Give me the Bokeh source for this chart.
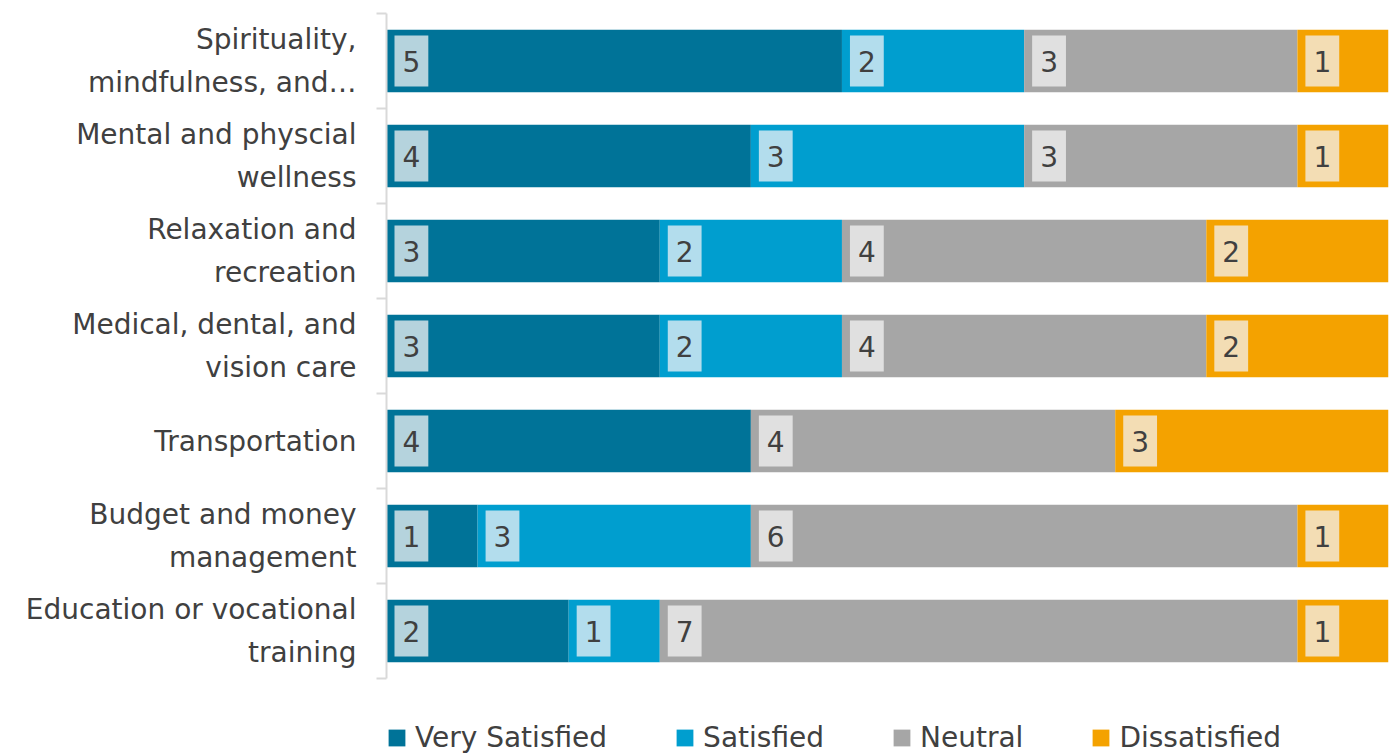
from bokeh.plotting import figure
from bokeh.models import ColumnDataSource, FixedTicker, Legend, LegendItem, Range1d
from bokeh.core.properties import value
from bokeh.embed import file_html
from bokeh.resources import INLINE

categories = [
    "Spirituality,\nmindfulness, and…",
    "Mental and physcial\nwellness",
    "Relaxation and\nrecreation",
    "Medical, dental, and\nvision care",
    "Transportation",
    "Budget and money\nmanagement",
    "Education or vocational\ntraining",
]
series = ["Very Satisfied", "Satisfied", "Neutral", "Dissatisfied"]
very_satisfied = [5, 4, 3, 3, 4, 1, 2]
satisfied = [2, 3, 2, 2, 0, 3, 1]
neutral = [3, 3, 4, 4, 4, 6, 7]
dissatisfied = [1, 1, 2, 2, 3, 1, 1]

colors = ["#007398", "#009ECF", "#A6A6A6", "#F4A200"]
box_colors = ["#B5D3DD", "#B3DDED", "#E0E0E0", "#F3DDB4"]
FONT = "DejaVu Sans"
FS = "28px"
TXT = "#404040"

n = len(categories)
ypos = [n - 1 - i for i in range(n)]  # first category at top
values = [very_satisfied, satisfied, neutral, dissatisfied]

H = 754
TOP = 13
BAND = 95.0
y_bottom = (n - 0.5) - (H - TOP) / BAND  # extra room below bars for the legend

p = figure(width=1390, height=H, output_backend="svg", toolbar_location=None,
           x_range=Range1d(0, 11), y_range=Range1d(y_bottom, n - 0.5),
           min_border_left=386, min_border_right=2, min_border_top=TOP, min_border_bottom=0)
p.outline_line_color = None
p.grid.visible = False
p.xaxis.visible = False
p.background_fill_color = "white"
p.border_fill_color = "white"

data = {"y": ypos}
for name, vals in zip(series, values):
    data[name] = vals
src = ColumnDataSource(data)
renderers = p.hbar_stack(series, y="y", height=0.66, source=src, color=colors, line_color=None)

# labels
for k, (name, vals) in enumerate(zip(series, values)):
    xs, ys, ts = [], [], []
    for i in range(n):
        start = sum(values[j][i] for j in range(k))
        if vals[i] > 0:
            xs.append(start)
            ys.append(ypos[i])
            ts.append(str(vals[i]))
    ls = ColumnDataSource(dict(x=xs, y=ys, t=ts))
    p.text(x="x", y="y", text="t", source=ls, x_offset=8, text_align="left",
           text_baseline="middle", text_font=value(FONT), text_font_size=FS,
           text_color=TXT, background_fill_color=box_colors[k],
           padding={"left": 8, "right": 8, "top": 15, "bottom": 15})

yax = p.yaxis[0]
yax.bounds = (-0.5, n - 0.5)
yax.ticker = FixedTicker(ticks=ypos, minor_ticks=[i - 0.5 for i in range(n + 1)])
yax.major_label_overrides = {ypos[i]: categories[i] for i in range(n)}
yax.major_tick_out = 0
yax.major_tick_in = 0
yax.minor_tick_out = 10
yax.minor_tick_in = 0
yax.minor_tick_line_color = "#D9D9D9"
yax.minor_tick_line_width = 2
yax.axis_line_color = "#D9D9D9"
yax.axis_line_width = 2
yax.major_label_standoff = 20
yax.major_label_text_font = FONT
yax.major_label_text_font_size = FS
yax.major_label_text_color = TXT
yax.major_label_text_line_height = 1.32

legend = Legend(items=[LegendItem(label=s, renderers=[r]) for s, r in zip(series, renderers)],
                orientation="horizontal", location=(0, 0), spacing=67,
                glyph_width=21, glyph_height=21, label_standoff=8,
                label_text_font=FONT, label_text_font_size=FS, label_text_color=TXT,
                border_line_color=None, background_fill_alpha=0, padding=0,
                margin=0)
p.add_layout(legend, "center")

open("out.html", "w").write(file_html(p, INLINE))
